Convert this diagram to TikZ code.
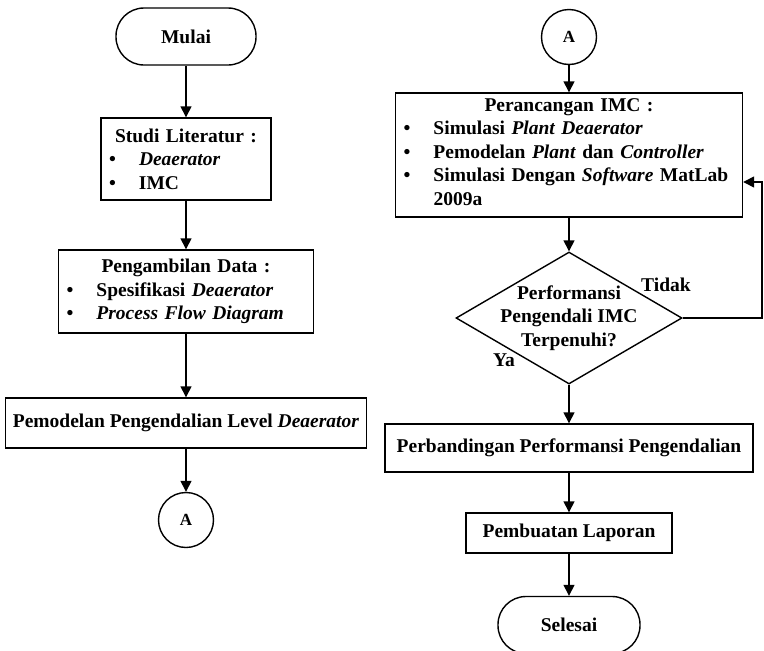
\documentclass[tikz,border=0pt]{standalone}
\usepackage{fontspec}
\setmainfont{Liberation Serif}
\usetikzlibrary{arrows.meta,shapes.geometric}

\newcommand{\judul}[1]{\hbox to\hsize{\hfil#1\hfil}}
\newcommand{\butir}{\par\noindent\makebox[30pt][l]{\textbullet}}
\newcommand{\lanjut}{\par\noindent\hspace*{30pt}}

\begin{document}
\begin{tikzpicture}[x=1pt,y=-1pt,
  every node/.style={font=\fontsize{19.5}{23.5}\selectfont\bfseries},
  proses/.style={draw,line width=1.4pt,rectangle,inner sep=2pt,align=center},
  daftar/.style={proses,inner xsep=8pt,inner ysep=2pt,align=left},
  terminal/.style={draw,line width=1.4pt,rectangle,rounded corners=28pt,
    minimum width=140pt,minimum height=57pt},
  konektor/.style={draw,line width=1.4pt,circle,minimum size=55pt,inner sep=0pt,
    font=\fontsize{17}{19}\selectfont\bfseries},
  keputusan/.style={draw,line width=1.4pt,diamond,aspect=1.71,inner sep=-12pt,
    minimum width=226pt,minimum height=132pt,align=center},
  panah/.style={line width=1.4pt,-{Triangle[length=11pt,width=11pt]}}]
  \useasboundingbox (0,0) rectangle (764,651);

  % kolom kiri
  \node[terminal] (mulai) at (186,36.5) {Mulai};
  \node[daftar,text width=154pt,minimum height=82pt] (studi) at (186,159)
    {\judul{Studi Literatur :}\butir\textit{Deaerator}\butir IMC};
  \node[daftar,text width=239pt,minimum height=83pt] (ambil) at (186,291.5)
    {\judul{Pengambilan Data :}\butir Spesifikasi \textit{Deaerator}%
     \butir\textit{Process Flow Diagram}};
  \node[proses,minimum width=361pt,minimum height=50pt] (model) at (186,423)
    {Pemodelan Pengendalian Level \textit{Deaerator}};
  \node[konektor] (akiri) at (186,520) {A};

  % kolom kanan
  \node[konektor] (akanan) at (569,37) {A};
  \node[daftar,text width=331pt,minimum height=124pt] (rancang) at (569,155)
    {\judul{Perancangan IMC :}\butir Simulasi \textit{Plant Deaerator}%
     \butir Pemodelan \textit{Plant} dan \textit{Controller}%
     \butir Simulasi Dengan \textit{Software} MatLab\lanjut 2009a\vspace{6pt}};
  \node[keputusan] (cek) at (569,318) {Performansi\\Pengendali IMC\\Terpenuhi?};
  \node[proses,minimum width=368pt,minimum height=48pt] (banding) at (569,448)
    {Perbandingan Performansi Pengendalian};
  \node[proses,minimum width=206pt,minimum height=40pt] (laporan) at (569,533)
    {Pembuatan Laporan};
  \node[terminal,minimum width=142pt] (selesai) at (569,625) {Selesai};
  \node (tidak) at (666,285) {Tidak};
  \node (ya) at (504,360) {Ya};
  \coordinate (balik) at (762,182);

  % panah
  \draw[panah] (mulai) -- (studi);
  \draw[panah] (studi) -- (ambil);
  \draw[panah] (ambil) -- (model);
  \draw[panah] (model) -- (akiri);
  \draw[panah] (akanan) -- (rancang);
  \draw[panah] (rancang) -- (cek);
  \draw[panah] (cek) -- (banding);
  \draw[panah] (banding) -- (laporan);
  \draw[panah] (laporan) -- (selesai);
  \draw[panah] (cek.east) -| (balik) -- ([yshift=-27pt]rancang.east);
\end{tikzpicture}
\end{document}
